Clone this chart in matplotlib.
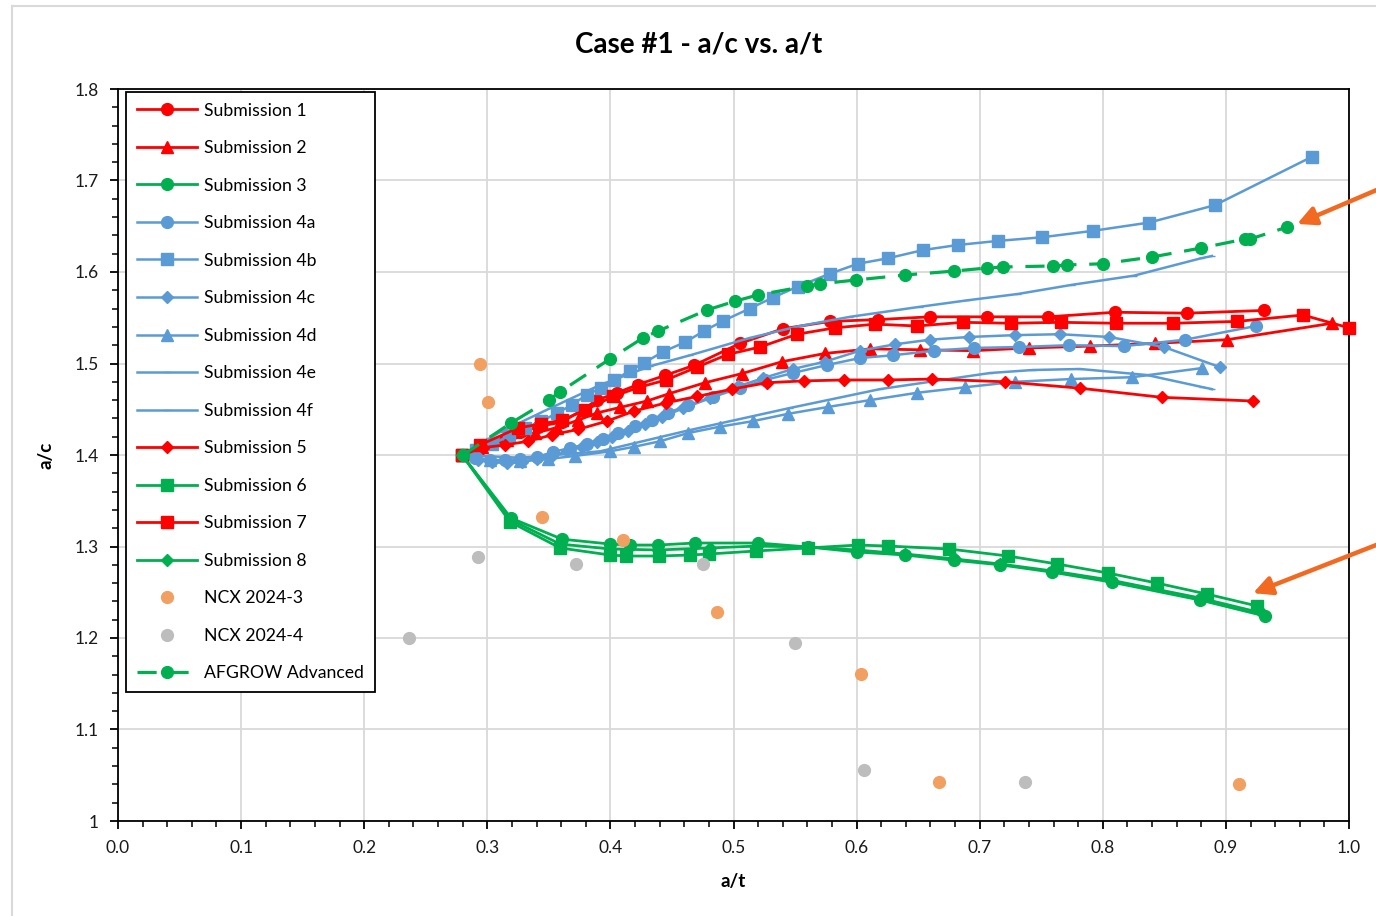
import matplotlib
matplotlib.use("Agg")
import matplotlib.pyplot as plt
from matplotlib.ticker import MultipleLocator, FuncFormatter
from matplotlib.lines import Line2D

plt.rcParams['font.family'] = ['Lato', 'DejaVu Sans']

# ---------------- data ----------------
s1_x = [0.280, 0.2965, 0.3144, 0.3266, 0.3412, 0.3607, 0.3769, 0.3891, 0.4054, 0.4224, 0.4444, 0.4679,
        0.5053, 0.5402, 0.5784, 0.6174, 0.6596, 0.7059, 0.7555, 0.8099, 0.8684, 0.9309]
s1_y = [1.400, 1.411, 1.416, 1.425, 1.431, 1.436, 1.449, 1.460, 1.468, 1.477, 1.487, 1.498,
        1.522, 1.538, 1.546, 1.548, 1.551, 1.551, 1.551, 1.556, 1.555, 1.558]

s2_x = [0.2795, 0.2957, 0.316, 0.3387, 0.3566, 0.3737, 0.3891, 0.4078, 0.4297, 0.4476, 0.4768, 0.5069,
        0.5394, 0.5743, 0.6109, 0.6515, 0.6946, 0.740, 0.7896, 0.8424, 0.9009, 0.9862]
s2_y = [1.400, 1.409, 1.416, 1.424, 1.430, 1.438, 1.446, 1.452, 1.459, 1.467, 1.479, 1.489,
        1.502, 1.511, 1.516, 1.515, 1.514, 1.517, 1.519, 1.522, 1.526, 1.544]

s3_x = [0.2795, 0.3193, 0.3607, 0.3997, 0.4159, 0.4387, 0.4687, 0.5199, 0.5605, 0.6003, 0.6393, 0.6791,
        0.7165, 0.7587, 0.8075, 0.879, 0.9318]
s3_y = [1.400, 1.331, 1.308, 1.3027, 1.3016, 1.3016, 1.3038, 1.3038, 1.2995, 1.294, 1.2907, 1.285,
        1.280, 1.272, 1.261, 1.2415, 1.224]

s4a_x = [0.2795, 0.290, 0.3022, 0.3144, 0.3266, 0.3404, 0.3534, 0.3672, 0.381, 0.394, 0.4062, 0.420,
         0.4338, 0.4468, 0.463, 0.4833, 0.5053, 0.5256, 0.5483, 0.576, 0.6028, 0.6296, 0.6629, 0.6954,
         0.7319, 0.7725, 0.8172, 0.8668, 0.9245]
s4a_y = [1.400, 1.397, 1.3945, 1.3945, 1.3956, 1.3978, 1.4033, 1.4077, 1.412, 1.4175, 1.424, 1.4317,
         1.438, 1.446, 1.4546, 1.4634, 1.4732, 1.482, 1.4896, 1.4984, 1.506, 1.509, 1.514, 1.517,
         1.518, 1.520, 1.519, 1.526, 1.541]

s4b_x = [0.2795, 0.291, 0.304, 0.318, 0.331, 0.344, 0.357, 0.369, 0.381, 0.392, 0.403, 0.416, 0.427,
         0.443, 0.461, 0.476, 0.4915, 0.513, 0.532, 0.552, 0.578, 0.601, 0.6255, 0.654, 0.682, 0.715,
         0.751, 0.792, 0.8375, 0.891, 0.970]
s4b_y = [1.400, 1.4055, 1.412, 1.421, 1.4295, 1.437, 1.446, 1.455, 1.466, 1.473, 1.482, 1.492, 1.5005,
         1.513, 1.5235, 1.5355, 1.5465, 1.560, 1.572, 1.584, 1.598, 1.609, 1.615, 1.624, 1.6295, 1.634,
         1.638, 1.645, 1.654, 1.673, 1.726]

s4c_x = [0.2795, 0.2924, 0.3038, 0.316, 0.3282, 0.3404, 0.3526, 0.3647, 0.3769, 0.3891, 0.4013, 0.4143,
         0.4281, 0.4419, 0.459, 0.4809, 0.5037, 0.524, 0.5483, 0.5743, 0.6028, 0.6312, 0.6596, 0.6913,
         0.7287, 0.7652, 0.805, 0.8497, 0.8952]
s4c_y = [1.400, 1.3945, 1.3923, 1.391, 1.392, 1.3956, 1.399, 1.404, 1.409, 1.414, 1.420, 1.426,
         1.434, 1.4415, 1.451, 1.462, 1.475, 1.484, 1.494, 1.502, 1.514, 1.521, 1.526, 1.529,
         1.531, 1.532, 1.529, 1.518, 1.496]

s4d_x = [0.2795, 0.3022, 0.3266, 0.3493, 0.3712, 0.3997, 0.4192, 0.4403, 0.463, 0.489, 0.5158, 0.5443,
         0.5768, 0.6109, 0.6491, 0.6881, 0.7287, 0.7742, 0.8237, 0.8806]
s4d_y = [1.400, 1.3945, 1.3934, 1.3956, 1.399, 1.404, 1.409, 1.415, 1.424, 1.431, 1.437, 1.445,
         1.4525, 1.460, 1.468, 1.474, 1.480, 1.483, 1.485, 1.495]

s4e_x = [0.2795, 0.3103, 0.3509, 0.3916, 0.4322, 0.4647, 0.5134, 0.554, 0.5946, 0.6515, 0.6897, 0.7311,
         0.775, 0.8253, 0.8798, 0.8887]
s4e_y = [1.400, 1.425, 1.451, 1.4765, 1.497, 1.509, 1.528, 1.541, 1.551, 1.562, 1.569, 1.576,
         1.586, 1.596, 1.615, 1.6175]

s4f_x = [0.2795, 0.3266, 0.3916, 0.4647, 0.5459, 0.619, 0.7083, 0.7433, 0.7815, 0.8359, 0.8806, 0.8887]
s4f_y = [1.400, 1.397, 1.404, 1.4273, 1.4514, 1.472, 1.4896, 1.4929, 1.494, 1.4874, 1.4743, 1.472]

s5_x = [0.2795, 0.2965, 0.3144, 0.3331, 0.3526, 0.3737, 0.3972, 0.4192, 0.4452, 0.4703, 0.4988, 0.5272,
        0.5573, 0.5898, 0.6255, 0.6612, 0.7206, 0.7815, 0.8481, 0.922]
s5_y = [1.400, 1.408, 1.411, 1.415, 1.422, 1.428, 1.437, 1.448, 1.457, 1.464, 1.472, 1.479,
        1.481, 1.482, 1.482, 1.483, 1.480, 1.473, 1.463, 1.459]

s6_x = [0.2795, 0.3184, 0.3591, 0.3997, 0.4127, 0.4395, 0.4647, 0.4801, 0.5183, 0.5605, 0.6011, 0.6255,
        0.675, 0.723, 0.7628, 0.8042, 0.844, 0.8846, 0.9253]
s6_y = [1.400, 1.327, 1.2984, 1.2907, 1.2896, 1.2896, 1.2907, 1.2918, 1.2951, 1.2984, 1.3016, 1.3005,
        1.2973, 1.2896, 1.2809, 1.271, 1.260, 1.248, 1.235]

s7_x = [0.2795, 0.2941, 0.3249, 0.3436, 0.3607, 0.3794, 0.4021, 0.4232, 0.4452, 0.4703, 0.4955, 0.5215,
        0.5516, 0.5825, 0.615, 0.6491, 0.6864, 0.7254, 0.766, 0.8107, 0.857, 0.909, 0.9626, 1.000]
s7_y = [1.400, 1.411, 1.4295, 1.434, 1.438, 1.449, 1.464, 1.474, 1.482, 1.496, 1.510, 1.518,
        1.532, 1.539, 1.543, 1.541, 1.545, 1.544, 1.545, 1.544, 1.544, 1.546, 1.553, 1.539]

s8_x = [0.2795, 0.3193, 0.3591, 0.3997, 0.4387, 0.4809, 0.5191, 0.5605, 0.6003, 0.6393, 0.680, 0.7165,
        0.7595, 0.806, 0.879, 0.9293]
s8_y = [1.400, 1.329, 1.3027, 1.2973, 1.2962, 1.2984, 1.3005, 1.2995, 1.2962, 1.2918, 1.2863, 1.2809,
        1.2732, 1.2634, 1.2437, 1.2273]

ncx3_x = [0.294, 0.3006, 0.3444, 0.410, 0.4866, 0.6036, 0.667, 0.9106]
ncx3_y = [1.500, 1.458, 1.332, 1.307, 1.228, 1.161, 1.043, 1.040]

ncx4_x = [0.2364, 0.2924, 0.372, 0.475, 0.550, 0.606, 0.737]
ncx4_y = [1.200, 1.289, 1.281, 1.281, 1.195, 1.056, 1.043]

afg_x = [0.2803, 0.3193, 0.350, 0.359, 0.3997, 0.4265, 0.4387, 0.4785, 0.501, 0.520, 0.5597, 0.5703,
         0.5995, 0.6393, 0.679, 0.706, 0.719, 0.7595, 0.771, 0.800, 0.840, 0.8798, 0.9155, 0.9196, 0.9496]
afg_y = [1.400, 1.435, 1.460, 1.469, 1.505, 1.528, 1.5355, 1.5585, 1.568, 1.575, 1.5847, 1.587,
         1.5913, 1.5967, 1.601, 1.6044, 1.6055, 1.6066, 1.6077, 1.609, 1.6164, 1.6262, 1.636, 1.636, 1.649]

labels = ["Submission 1", "Submission 2", "Submission 3", "Submission 4a", "Submission 4b",
          "Submission 4c", "Submission 4d", "Submission 4e", "Submission 4f", "Submission 5",
          "Submission 6", "Submission 7", "Submission 8", "NCX 2024-3", "NCX 2024-4", "AFGROW Advanced"]

# arrow annotations (tail, head) in data units
arrow1 = ((1.0414, 1.7005), (0.9578, 1.6525))
arrow2 = ((1.0414, 1.3118), (0.922, 1.249))

RED = '#FF0000'
BLUE = '#5B9BD5'
GREEN = '#00B050'
ORANGE = '#F2A061'
GRAY = '#BDBDBD'
ARROW = '#F26A22'

# ---------------- figure ----------------
fig = plt.figure(figsize=(13.76, 9.16), dpi=100)
W, H = 1376, 916
ax = fig.add_axes([118 / W, 1 - 821 / H, (1349 - 118) / W, (821 - 89) / H])

# outer chart border (light gray)
fig.add_artist(Line2D([12 / W, 12 / W], [0, 1 - 6 / H], transform=fig.transFigure, color='#D9D9D9', lw=1.5))
fig.add_artist(Line2D([12 / W, 1], [1 - 6 / H, 1 - 6 / H], transform=fig.transFigure, color='#D9D9D9', lw=1.5))

series = [
    (s1_x, s1_y, RED, 'o', 8.5, 2.0),
    (s2_x, s2_y, RED, '^', 8.5, 2.0),
    (s3_x, s3_y, GREEN, 'o', 8.5, 2.0),
    (s4a_x, s4a_y, BLUE, 'o', 8.5, 1.8),
    (s4b_x, s4b_y, BLUE, 's', 8, 1.8),
    (s4c_x, s4c_y, BLUE, 'D', 6.5, 1.8),
    (s4d_x, s4d_y, BLUE, '^', 8.5, 1.8),
    (s4e_x, s4e_y, BLUE, '_', 5, 1.8),
    (s4f_x, s4f_y, BLUE, '_', 5, 1.8),
    (s5_x, s5_y, RED, 'D', 6.5, 2.0),
    (s6_x, s6_y, GREEN, 's', 8, 2.0),
    (s7_x, s7_y, RED, 's', 8, 2.0),
    (s8_x, s8_y, GREEN, 'D', 6.5, 2.0),
]

handles = []
for (xs, ys, c, m, ms, lw), lab in zip(series, labels[:13]):
    h, = ax.plot(xs, ys, color=c, marker=m, markersize=ms, linestyle='-', lw=lw,
                 markeredgecolor=c, markerfacecolor=c, label=lab, clip_on=False, zorder=3)
    handles.append(h)

h, = ax.plot(ncx3_x, ncx3_y, linestyle='none', marker='o', markersize=8.5, color=ORANGE,
             markeredgecolor=ORANGE, label=labels[13], zorder=3)
handles.append(h)
h, = ax.plot(ncx4_x, ncx4_y, linestyle='none', marker='o', markersize=8.5, color=GRAY,
             markeredgecolor=GRAY, label=labels[14], zorder=3)
handles.append(h)
h, = ax.plot(afg_x, afg_y, linestyle=(0, (6, 4)), lw=2.3, marker='o', markersize=8.5, color=GREEN,
             markeredgecolor=GREEN, label=labels[15], zorder=4)
handles.append(h)

# axes formatting
ax.set_xlim(0, 1.0)
ax.set_ylim(1.0, 1.8)
ax.xaxis.set_major_locator(MultipleLocator(0.1))
ax.xaxis.set_minor_locator(MultipleLocator(0.02))
ax.yaxis.set_major_locator(MultipleLocator(0.1))
ax.yaxis.set_minor_locator(MultipleLocator(0.02))
ax.xaxis.set_major_formatter(FuncFormatter(lambda v, p: f"{v:.1f}"))
ax.yaxis.set_major_formatter(FuncFormatter(lambda v, p: "1" if abs(v - 1) < 1e-9 else f"{v:.1f}"))
ax.grid(True, which='major', color='#D9D9D9', lw=1.3, zorder=0)
ax.set_axisbelow(True)
for sp in ax.spines.values():
    sp.set_color('black')
    sp.set_linewidth(1.3)
ax.tick_params(which='major', direction='out', length=6, width=1.3, color='black',
               labelsize=12.5, labelcolor='#1a1a1a', pad=8)
ax.tick_params(which='minor', direction='out', length=4, width=1.1, color='black')

ax.set_xlabel('a/t', fontsize=13.5, fontweight='bold', labelpad=12)
ax.set_ylabel('a/c', fontsize=13.5, fontweight='bold', labelpad=14)
fig.text(699 / W, 1 - 44 / H, 'Case #1 - a/c vs. a/t', ha='center', va='center',
         fontsize=20, fontweight='bold', color='black')

leg = ax.legend(handles=handles, labels=labels, loc='upper left', bbox_to_anchor=(0.0065, 0.9959),
                borderaxespad=0, fontsize=12.7, frameon=True, fancybox=False, shadow=False,
                labelspacing=1.22, handlelength=3.4, handletextpad=0.45, borderpad=0.6,
                framealpha=1)
leg.get_frame().set_edgecolor('black')
leg.get_frame().set_linewidth(1.3)
leg.set_zorder(10)

for (tail, head) in (arrow1, arrow2):
    ax.annotate('', xy=head, xytext=tail, xycoords='data', textcoords='data',
                annotation_clip=False,
                arrowprops=dict(arrowstyle='-|>', color=ARROW, lw=3.2, mutation_scale=28,
                                shrinkA=0, shrinkB=0), zorder=6)

fig.savefig('out.png', dpi=100)
